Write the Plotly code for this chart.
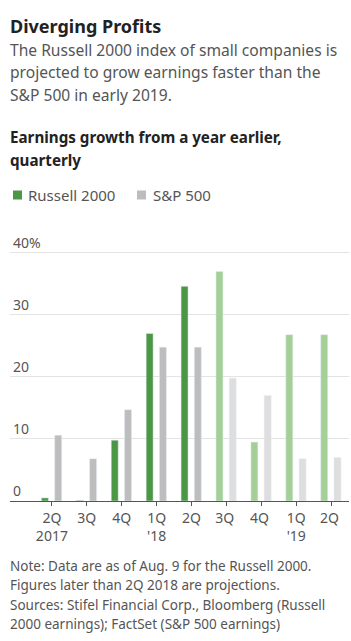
import plotly.graph_objects as go

quarters = ["2Q<br>2017", "3Q", "4Q", "1Q<br>'18", "2Q", "3Q ", "4Q ", "1Q<br>'19", "2Q "]
russell = [0.5, 0.1, 9.8, 27.0, 34.6, 37.0, 9.5, 26.8, 26.8]
sp500 = [10.6, 6.8, 14.7, 24.8, 24.8, 19.8, 17.0, 6.8, 7.0]
n_actual = 5  # first five quarters are actual, rest projections

ytick_vals = [0, 10, 20, 30, 40]
ytick_text = ["0", "10", "20", "30", "40%"]

GREEN = "#4b9746"
GREEN_L = "#a4d097"
GRAY = "#bdbdbd"
GRAY_L = "#dedede"

W, H = 351, 641
YMAX = 44
ML, MR, MB = 10, 2, 140
MT = int(round(H - MB - YMAX * 6.21))
PH = H - MT - MB


def py(p):
    return (H - MB - p) / PH


def px(p):
    return (p - ML) / (W - ML - MR)


FONT = "Noto Sans"

fig = go.Figure()
fig.add_bar(x=quarters[:n_actual], y=russell[:n_actual], marker_color=GREEN,
            width=0.2, offset=-0.3, showlegend=False)
fig.add_bar(x=quarters[n_actual:], y=russell[n_actual:], marker_color=GREEN_L,
            width=0.2, offset=-0.3, showlegend=False)
fig.add_bar(x=quarters[:n_actual], y=sp500[:n_actual], marker_color=GRAY,
            width=0.2, offset=0.08, showlegend=False)
fig.add_bar(x=quarters[n_actual:], y=sp500[n_actual:], marker_color=GRAY_L,
            width=0.2, offset=0.08, showlegend=False)

anns = []


def text(t, x, y, size, color="#333", bold=False):
    anns.append(dict(text=("<b>%s</b>" % t) if bold else t, x=px(x), y=py(y),
                     xref="paper", yref="paper", xanchor="left", yanchor="middle",
                     showarrow=False, font=dict(family=FONT, size=size, color=color)))


text("Diverging Profits", 8, 26, 18, "#222", True)
text("The Russell 2000 index of small companies is", 8, 50, 15.6, "#555")
text("projected to grow earnings faster than the", 8, 72, 15.6, "#555")
text("S&P 500 in early 2019.", 8, 95, 15.6, "#555")
text("Earnings growth from a year earlier,", 8, 137, 15.2, "#222", True)
text("quarterly", 8, 160, 15.2, "#222", True)
text("Russell 2000", 26, 195, 15, "#555")
text("S&P 500", 151, 195, 15, "#555")
text("Note: Data are as of Aug. 9 for the Russell 2000.", 8, 566, 13.5, "#555")
text("Figures later than 2Q 2018 are projections.", 8, 585, 13.5, "#555")
text("Sources: Stifel Financial Corp., Bloomberg (Russell", 8, 605, 13.5, "#555")
text("2000 earnings); FactSet (S&P 500 earnings)", 8, 624, 13.5, "#555")

shapes = [
    dict(type="rect", xref="paper", yref="paper", x0=px(13), x1=px(22),
         y0=py(199.5), y1=py(190.5), fillcolor=GREEN, line_width=0),
    dict(type="rect", xref="paper", yref="paper", x0=px(137), x1=px(146),
         y0=py(199.5), y1=py(190.5), fillcolor=GRAY, line_width=0),
]

fig.update_layout(
    width=W, height=H, margin=dict(l=ML, r=MR, t=MT, b=MB),
    paper_bgcolor="white", plot_bgcolor="white",
    barmode="overlay", annotations=anns, shapes=shapes,
    font=dict(family=FONT, size=13, color="#555"),
    xaxis=dict(type="category", categoryorder="array", categoryarray=quarters,
               range=[-1.2, 8.51], showline=True, linecolor="#555", linewidth=1,
               ticks="outside", ticklen=4, tickcolor="#555",
               tickfont=dict(family=FONT, size=14, color="#555"), showgrid=False),
    yaxis=dict(range=[0, YMAX], tickvals=ytick_vals, ticktext=ytick_text,
               ticklabelposition="inside top", showgrid=True, gridcolor="#e3e3e3",
               zeroline=False, showline=False, ticks="",
               tickfont=dict(family=FONT, size=14, color="#555")),
)

fig.write_html("out.html")
